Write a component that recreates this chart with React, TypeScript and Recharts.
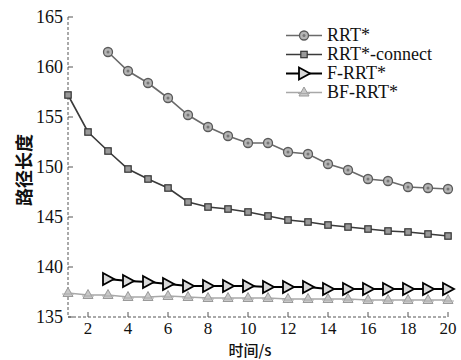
import React from 'react';
import { LineChart, Line, XAxis, YAxis } from 'recharts';

const times = [1, 2, 3, 4, 5, 6, 7, 8, 9, 10, 11, 12, 13, 14, 15, 16, 17, 18, 19, 20];
const rrtStar = [null, null, 161.5, 159.6, 158.4, 156.9, 155.2, 154.0, 153.1, 152.4, 152.4, 151.5, 151.3, 150.3, 149.7, 148.8, 148.6, 148.0, 147.9, 147.8];
const rrtConnect = [157.2, 153.5, 151.6, 149.8, 148.8, 147.9, 146.5, 146.0, 145.8, 145.5, 145.1, 144.7, 144.5, 144.2, 144.0, 143.8, 143.6, 143.5, 143.3, 143.1];
const fRrt = [null, null, 138.8, 138.6, 138.5, 138.3, 138.1, 138.1, 138.1, 138.1, 138.0, 138.0, 138.0, 137.8, 137.8, 137.8, 137.8, 137.8, 137.8, 137.8];
const bfRrt = [137.4, 137.2, 137.2, 137.0, 137.0, 137.1, 137.0, 136.9, 136.9, 136.9, 136.9, 136.8, 136.8, 136.8, 136.8, 136.7, 136.7, 136.7, 136.7, 136.7];
const xTicks = [2, 4, 6, 8, 10, 12, 14, 16, 18, 20];
const yTicks = [135, 140, 145, 150, 155, 160, 165];

const data = times.map((t, i) => ({
  t,
  rrtStar: rrtStar[i],
  rrtConnect: rrtConnect[i],
  fRrt: fRrt[i],
  bfRrt: bfRrt[i],
}));

const SERIF = "'Liberation Serif', 'DejaVu Serif', 'Times New Roman', serif";
const CJK = "'Noto Sans CJK SC', sans-serif";

const circleMark = (cx: number, cy: number, key?: any) => (
  <g key={key}>
    <circle cx={cx} cy={cy} r={4.5} fill="#b5b5b5" stroke="#5a5a5a" strokeWidth={1.3} />
    <circle cx={cx} cy={cy} r={1.5} fill="#777" />
  </g>
);
const squareMark = (cx: number, cy: number, key?: any) => (
  <rect key={key} x={cx - 3.2} y={cy - 3.2} width={6.4} height={6.4} fill="#999" stroke="#333" strokeWidth={1.2} />
);
const triMark = (cx: number, cy: number, key?: any) => (
  <polygon key={key} points={`${cx - 5},${cy - 6} ${cx + 6},${cy} ${cx - 5},${cy + 6}`} fill="#d8d8d8" stroke="#000" strokeWidth={1.8} />
);
const starMark = (cx: number, cy: number, key?: any) => (
  <g key={key}>
    <polygon points={`${cx},${cy - 5.5} ${cx + 5},${cy + 3.5} ${cx - 5},${cy + 3.5}`} fill="#c8c8c8" stroke="#9a9a9a" strokeWidth={1} />
    <line x1={cx - 6} y1={cy + 1} x2={cx + 6} y2={cy + 1} stroke="#aaa" strokeWidth={1} />
  </g>
);

const makeDot = (fn: (cx: number, cy: number, key?: any) => any) => (props: any) => {
  const { cx, cy, index, value } = props;
  if (cx == null || cy == null || value == null || isNaN(cx) || isNaN(cy)) return <g key={`e${index}`} />;
  return fn(cx, cy, `d${index}`);
};

const series = [
  { key: 'rrtStar', name: 'RRT*', color: '#6a6a6a', width: 1.6, mark: circleMark },
  { key: 'rrtConnect', name: 'RRT*-connect', color: '#3a3a3a', width: 1.6, mark: squareMark },
  { key: 'fRrt', name: 'F-RRT*', color: '#000', width: 2.2, mark: triMark },
  { key: 'bfRrt', name: 'BF-RRT*', color: '#a8a8a8', width: 1.5, mark: starMark },
];

const YTick = (props: any) => {
  const { x, y, payload } = props;
  return (
    <g>
      <line x1={x} y1={y} x2={x + 5} y2={y} stroke="#555" strokeWidth={1} />
      <text x={x - 5} y={y + 6} textAnchor="end" fontFamily={SERIF} fontSize={18} fill="#111">
        {payload.value}
      </text>
    </g>
  );
};

const XTick = (props: any) => {
  const { x, y, payload } = props;
  return (
    <g>
      <line x1={x} y1={y} x2={x} y2={y - 5} stroke="#555" strokeWidth={1} />
      <text x={x} y={y + 17} textAnchor="middle" fontFamily={SERIF} fontSize={17} fill="#111">
        {payload.value}
      </text>
    </g>
  );
};

const LegendBox = () => (
  <div style={{ position: 'absolute', left: 285, top: 26, display: 'flex', flexDirection: 'column' }}>
    {series.map((s) => (
      <div key={s.key} style={{ display: 'flex', alignItems: 'center', height: 19 }}>
        <svg width={38} height={19} style={{ display: 'block' }}>
          <line x1={1} y1={9.5} x2={37} y2={9.5} stroke={s.color} strokeWidth={s.width} />
          {s.mark(19, 9.5)}
        </svg>
        <span style={{ fontFamily: SERIF, fontSize: 18, color: '#111', marginLeft: 4, lineHeight: '19px', whiteSpace: 'nowrap' }}>
          {s.name}
        </span>
      </div>
    ))}
  </div>
);

export default function App() {
  return (
    <div style={{ position: 'absolute', left: 0, top: 0, width: 461, height: 360, background: '#fff' }}>
      <LineChart width={461} height={360} data={data} margin={{ top: 17, right: 13, bottom: 0, left: 0 }}>
        <XAxis
          dataKey="t"
          type="number"
          domain={[1, 20]}
          ticks={xTicks}
          tickSize={0}
          tickMargin={0}
          tickLine={false}
          tick={<XTick />}
          height={43}
          axisLine={{ stroke: '#555', strokeDasharray: '3 2' }}
          label={() => (
            <text x={250} y={356} textAnchor="middle" fontFamily={CJK} fontWeight={500} fontSize={15} fill="#111">
              时间/s
            </text>
          )}
        />
        <YAxis
          type="number"
          domain={[135, 165]}
          ticks={yTicks}
          tickSize={0}
          tickMargin={0}
          tickLine={false}
          tick={<YTick />}
          width={68}
          axisLine={{ stroke: '#555', strokeDasharray: '3 2' }}
          label={() => (
            <text x={31} y={170} transform="rotate(-90 31 170)" textAnchor="middle" fontFamily={CJK} fontWeight={600} fontSize={18} fill="#111">
              路径长度
            </text>
          )}
        />
        {series.map((s) => (
          <Line
            key={s.key}
            type="linear"
            dataKey={s.key}
            name={s.name}
            stroke={s.color}
            strokeWidth={s.width}
            dot={makeDot(s.mark)}
            activeDot={false}
            isAnimationActive={false}
            connectNulls={false}
          />
        ))}
      </LineChart>
      <LegendBox />
    </div>
  );
}
